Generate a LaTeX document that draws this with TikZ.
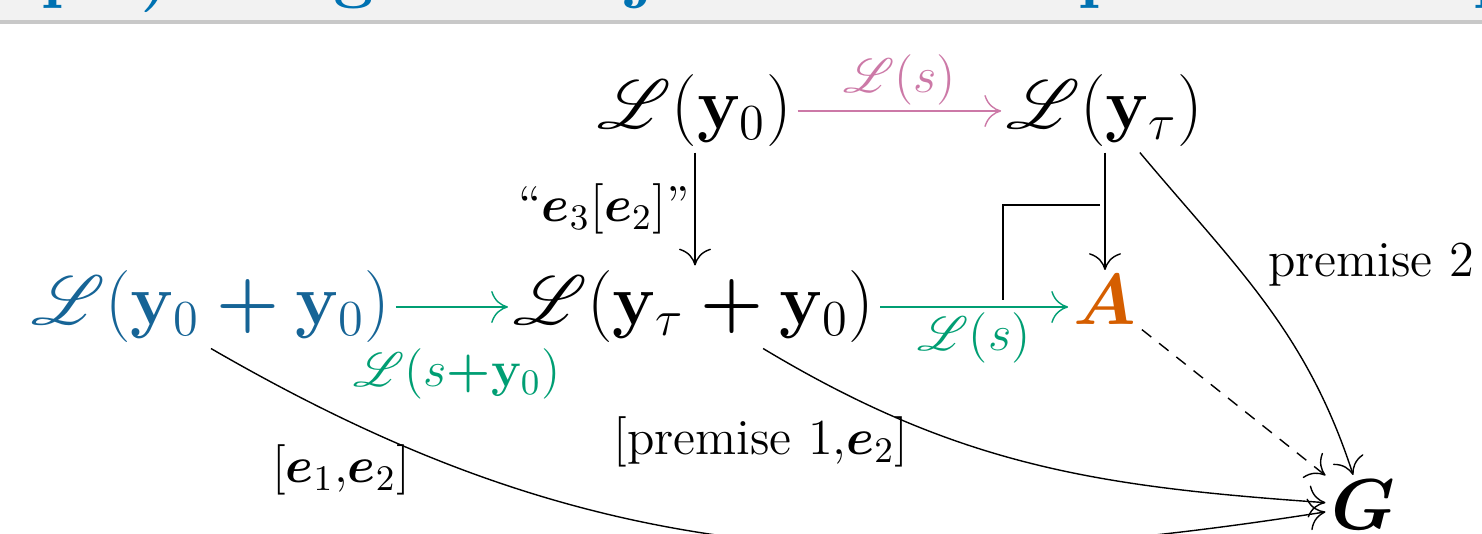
\RequirePackage{fix-cm}
\documentclass[tikz,border=0pt]{standalone}
\usepackage{amsmath,bm,mathrsfs}
\usetikzlibrary{arrows.meta}
\definecolor{nblue}{RGB}{22,100,150}
\definecolor{hdrblue}{RGB}{0,114,178}
\definecolor{hdrbg}{RGB}{242,242,242}
\definecolor{hdrline}{RGB}{200,200,200}
\definecolor{pinkc}{RGB}{204,121,167}
\definecolor{greenc}{RGB}{0,158,115}
\definecolor{vorange}{RGB}{213,94,0}
\begin{document}
\begin{tikzpicture}[x=0.25pt,y=0.25pt,
  every node/.style={inner sep=1.2pt},
  bignode/.style={font=\fontsize{18}{22}\selectfont, anchor=base},
  lbl/.style={font=\fontsize{18}{22}\selectfont},
  hdr/.style={font=\fontsize{18}{22}\selectfont\bfseries, text=hdrblue, anchor=base west, inner sep=0pt},
  cdarrow/.style={line width=0.35pt, -{Computer Modern Rightarrow[length=4.2pt,width=8pt]}},
]
\useasboundingbox (0,0) rectangle (1482,534);
\clip (0,0) rectangle (1482,534);
% header band (cut off)
\fill[hdrbg] (0,514) rectangle (1482,534);
\fill[hdrline] (0,510) rectangle (1482,514);
\node[hdr] (h1) at (41,539) {p};
\node[hdr] (h2) at (140,539) {)};
\node[hdr] (h3) at (333,539) {g};
\node[hdr] (h4) at (628,539) {j};
\node[hdr] (h5) at (1078,539) {p};
\node[hdr] (h6) at (1473,539) {p};
% nodes
\node[bignode] (N1) at (695,405) {$\mathscr{L}(\mathbf{y}_0)$};
\node[bignode] (N2) at (1105,405) {$\mathscr{L}(\mathbf{y}_{\tau})$};
\node[bignode, text=nblue] (N3) at (211,209) {$\mathscr{L}(\mathbf{y}_0\bm{+}\mathbf{y}_0)$};
\node[bignode] (N4) at (694,209) {$\mathscr{L}(\mathbf{y}_{\tau}\bm{+}\mathbf{y}_0)$};
\node[bignode, text=vorange] (A) at (1105,209) {$\bm{A}$};
\node[bignode] (G) at (1363,4) {$\bm{G}$};
% arrows
\draw[cdarrow, pinkc] (N1.east) -- (N1.east -| N2.west)
  node[midway, above, lbl, text=pinkc] (ls1) {$\scriptstyle\mathscr{L}(s)$};
\draw[cdarrow] (N1.south) -- (N1.south |- N4.north)
  node[midway, left, lbl] (le3) {$\scriptstyle\text{``}\bm{e}_3[\bm{e}_2]\text{''}$};
\draw[cdarrow] (N2.south) -- (N2.south |- A.north);
\draw[cdarrow, greenc] (N3.east) -- (N3.east -| N4.west);
\node[lbl, text=greenc] (ls2) at (457,160) {$\scriptstyle\mathscr{L}(s\bm{+}\mathbf{y}_0)$};
\draw[cdarrow, greenc] (N4.east) -- (N4.east -| A.west)
  node[midway, below, lbl, text=greenc] (ls3) {$\scriptstyle\mathscr{L}(s)$};
% pullback corner
\draw[line width=0.35pt] (1100,329) -- (1003,329) -- (1003,234);
% curves to G
\draw[cdarrow] (N2) to[out=-50, in=108] (G);
\node[lbl] (lp2) at (1371,269) {$\scriptstyle\text{premise 2}$};
\draw[cdarrow] (N4) to[out=-31, in=176] (G);
\node[lbl] (lp1) at (761,92) {$\scriptstyle[\text{premise 1},\bm{e}_2]$};
\draw[cdarrow] (N3.south) .. controls +(346,-200) and +(-494,-78) .. (G.190);
\node[lbl] (le12) at (341,64) {$\scriptstyle[\bm{e}_1,\bm{e}_2]$};
\draw[cdarrow, dash pattern=on 3pt off 2.5pt] (A) -- (G);
\end{tikzpicture}
\end{document}
